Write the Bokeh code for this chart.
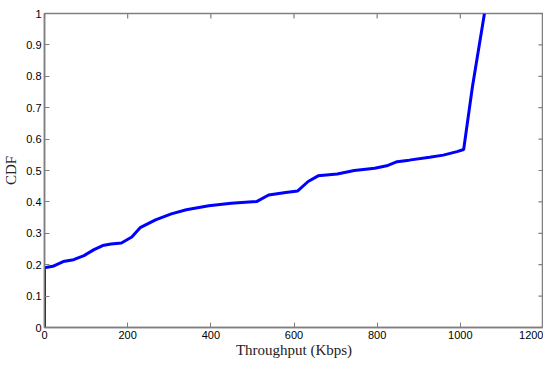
import math
from bokeh.plotting import figure
from bokeh.models import Range1d, FixedTicker
from bokeh.embed import file_html
from bokeh.resources import INLINE

throughput = [0, 0, 20, 45, 70, 95, 119, 140, 160, 185, 210, 230, 267, 305, 341, 395, 449,
              510, 539, 580, 609, 634, 658, 704, 745, 794, 823, 848, 877, 926, 959, 992,
              1008, 1029, 1058]
cdf = [0, 0.19, 0.195, 0.21, 0.216, 0.229, 0.248, 0.261, 0.266, 0.269, 0.288, 0.318, 0.343,
       0.362, 0.375, 0.388, 0.396, 0.401, 0.422, 0.43, 0.435, 0.465, 0.483, 0.489, 0.5, 0.507,
       0.515, 0.528, 0.533, 0.542, 0.549, 0.56, 0.567, 0.766, 1.0]

x_ticks = [0, 200, 400, 600, 800, 1000, 1200]
y_ticks = [0, 0.1, 0.2, 0.3, 0.4, 0.5, 0.6, 0.7, 0.8, 0.9, 1.0]
y_tick_labels = ["0", "0.1", "0.2", "0.3", "0.4", "0.5", "0.6", "0.7", "0.8", "0.9", "1"]

AX = "#7f7f7f"
X_MAX, Y_MAX = 1200, 1

p = figure(width=543, height=360, output_backend="svg", toolbar_location=None,
           x_range=Range1d(0, X_MAX), y_range=Range1d(0, Y_MAX),
           min_border_left=37, min_border_right=0, min_border_top=13, min_border_bottom=32)
p.grid.visible = False
p.outline_line_color = AX
p.outline_line_width = 1.5
p.background_fill_color = "white"
p.border_fill_color = "white"

# mirrored inward ticks on the right and top edges (half of each dash is clipped by the frame)
p.scatter([X_MAX] * len(y_ticks), y_ticks, marker="dash", size=10,
          line_color=AX, line_width=1.2)
p.scatter(x_ticks, [Y_MAX] * len(x_ticks), marker="dash", size=10, angle=math.pi / 2,
          line_color=AX, line_width=1.2)

p.line(throughput, cdf, line_color="#0000ff", line_width=3)

def style(ax):
    ax.axis_line_color = AX
    ax.axis_line_width = 1.5
    ax.major_tick_line_color = AX
    ax.major_tick_in = 5
    ax.major_tick_out = 0
    ax.minor_tick_line_color = None
    ax.major_label_text_font = "Liberation Sans"
    ax.major_label_text_font_size = "11px"
    ax.major_label_text_color = "black"
    ax.major_label_standoff = 3
    ax.axis_label_text_font = "Liberation Serif"
    ax.axis_label_text_font_style = "normal"
    ax.axis_label_text_font_size = "15px"
    ax.axis_label_text_color = "#222222"

xa = p.xaxis[0]
xa.ticker = FixedTicker(ticks=x_ticks)
style(xa)
xa.axis_label = "Throughput (Kbps)"
xa.axis_label_standoff = 0

ya = p.yaxis[0]
ya.ticker = FixedTicker(ticks=y_ticks)
ya.major_label_overrides = {t: l for t, l in zip(y_ticks, y_tick_labels)}
style(ya)
ya.axis_label = "CDF"
ya.axis_label_standoff = 4

open("out.html", "w").write(file_html(p, INLINE))
